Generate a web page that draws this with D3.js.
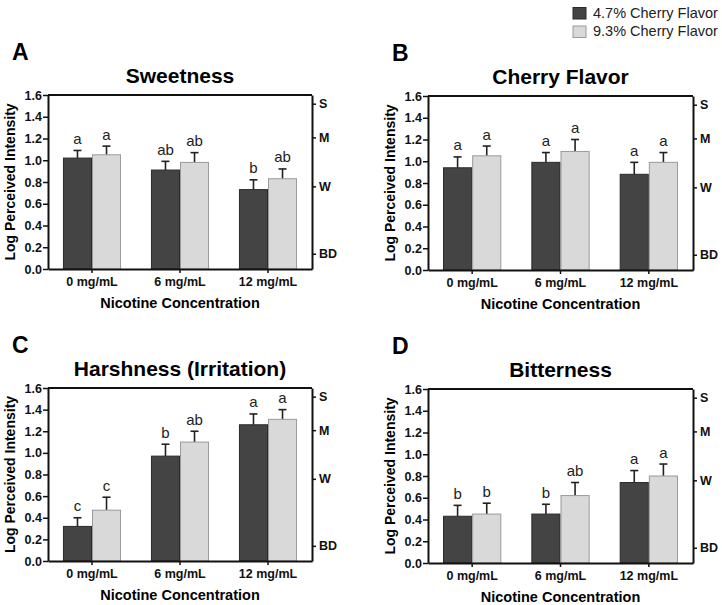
<!DOCTYPE html>
<html>
<head>
<meta charset="utf-8">
<script src="https://cdn.jsdelivr.net/npm/d3@7"></script>
<style>
  body { margin: 0; background: #fff; }
  text { font-family: "Liberation Sans", Arial, sans-serif; }
</style>
</head>
<body>
<div id="my_dataviz"></div>
<script>
// data
var categories = ["0 mg/mL", "6 mg/mL", "12 mg/mL"];
var seriesNames = ["4.7% Cherry Flavor", "9.3% Cherry Flavor"];
var yTicks = [0, 0.2, 0.4, 0.6, 0.8, 1.0, 1.2, 1.4, 1.6];
var glmsLabels = ["BD", "W", "M", "S"];
var glmsValues = [0.14, 0.76, 1.21, 1.52];

var sweet47 = [1.02, 0.91, 0.73], sweet47Err = [0.07, 0.08, 0.09], sweet47Sig = ["a", "ab", "b"];
var sweet93 = [1.05, 0.98, 0.83], sweet93Err = [0.08, 0.09, 0.09], sweet93Sig = ["a", "ab", "ab"];
var cherry47 = [0.94, 0.99, 0.88], cherry47Err = [0.10, 0.09, 0.11], cherry47Sig = ["a", "a", "a"];
var cherry93 = [1.05, 1.09, 0.99], cherry93Err = [0.09, 0.11, 0.09], cherry93Sig = ["a", "a", "a"];
var harsh47 = [0.32, 0.97, 1.26], harsh47Err = [0.08, 0.11, 0.10], harsh47Sig = ["c", "b", "a"];
var harsh93 = [0.47, 1.10, 1.31], harsh93Err = [0.12, 0.10, 0.09], harsh93Sig = ["c", "ab", "a"];
var bitter47 = [0.43, 0.45, 0.74], bitter47Err = [0.10, 0.09, 0.11], bitter47Sig = ["b", "b", "a"];
var bitter93 = [0.45, 0.62, 0.80], bitter93Err = [0.10, 0.12, 0.11], bitter93Sig = ["b", "ab", "a"];

var fills = ["#444444", "#d9d9d9"];
var strokes = ["#2a2a2a", "#9a9a9a"];

var svg = d3.select("#my_dataviz")
  .append("svg")
    .attr("width", 722)
    .attr("height", 605);

// legend top right
var legend = svg.append("g");
seriesNames.forEach(function(name, i) {
  legend.append("rect")
    .attr("x", 573).attr("y", 7.5 + i * 18.5)
    .attr("width", 13).attr("height", 11.5)
    .attr("fill", fills[i])
    .attr("stroke", strokes[i]).attr("stroke-width", 1);
  legend.append("text")
    .attr("x", 593).attr("y", 17.5 + i * 18.5)
    .style("font-size", "14.5px")
    .attr("fill", "#222")
    .text(name);
});

var panels = [
  {letter: "A", title: "Sweetness", x: 48, y: 95, w: 264, h: 174,
   v: [sweet47, sweet93], e: [sweet47Err, sweet93Err], s: [sweet47Sig, sweet93Sig]},
  {letter: "B", title: "Cherry Flavor", x: 428, y: 96, w: 265, h: 174,
   v: [cherry47, cherry93], e: [cherry47Err, cherry93Err], s: [cherry47Sig, cherry93Sig]},
  {letter: "C", title: "Harshness (Irritation)", x: 48, y: 388, w: 264, h: 173,
   v: [harsh47, harsh93], e: [harsh47Err, harsh93Err], s: [harsh47Sig, harsh93Sig]},
  {letter: "D", title: "Bitterness", x: 428, y: 389, w: 265, h: 174,
   v: [bitter47, bitter93], e: [bitter47Err, bitter93Err], s: [bitter47Sig, bitter93Sig]}
];

panels.forEach(function(p) {
  var g = svg.append("g")
    .attr("transform", "translate(" + p.x + "," + p.y + ")");

  var x0 = d3.scaleBand()
    .domain(categories)
    .range([0, p.w])
    .paddingInner(0.34)
    .paddingOuter(0.17);
  var x1 = d3.scaleBand()
    .domain([0, 1])
    .range([0, x0.bandwidth()]);
  var y = d3.scaleLinear()
    .domain([0, 1.6])
    .range([p.h, 0]);

  // panel letter + title
  g.append("text")
    .attr("x", -36).attr("y", -35.5)
    .style("font-size", "23px").style("font-weight", "bold")
    .text(p.letter);
  g.append("text")
    .attr("x", p.w / 2).attr("y", -12.5)
    .attr("text-anchor", "middle")
    .style("font-size", "21px").style("font-weight", "bold")
    .text(p.title);

  // bars
  var rows = [];
  categories.forEach(function(c, ci) {
    [0, 1].forEach(function(si) {
      rows.push({cat: c, s: si, val: p.v[si][ci], err: p.e[si][ci], sig: p.s[si][ci]});
    });
  });

  var bars = g.append("g").selectAll("g")
    .data(rows)
    .enter()
    .append("g")
      .attr("transform", function(d) { return "translate(" + (x0(d.cat) + x1(d.s)) + ",0)"; });

  bars.append("line")
    .attr("x1", x1.bandwidth() / 2).attr("x2", x1.bandwidth() / 2)
    .attr("y1", function(d) { return y(d.val); })
    .attr("y2", function(d) { return y(d.val + d.err); })
    .attr("stroke", "#222").attr("stroke-width", 1.6);
  bars.append("line")
    .attr("x1", x1.bandwidth() / 2 - 4).attr("x2", x1.bandwidth() / 2 + 4)
    .attr("y1", function(d) { return y(d.val + d.err); })
    .attr("y2", function(d) { return y(d.val + d.err); })
    .attr("stroke", "#222").attr("stroke-width", 1.6);
  bars.append("rect")
    .attr("x", 0.5)
    .attr("y", function(d) { return y(d.val); })
    .attr("width", x1.bandwidth() - 1)
    .attr("height", function(d) { return p.h - y(d.val); })
    .attr("fill", function(d) { return fills[d.s]; })
    .attr("stroke", function(d) { return strokes[d.s]; })
    .attr("stroke-width", 1);
  bars.append("text")
    .attr("x", x1.bandwidth() / 2)
    .attr("y", function(d) { return y(d.val + d.err) - 6.5; })
    .attr("text-anchor", "middle")
    .style("font-size", "15px")
    .attr("fill", "#222")
    .text(function(d) { return d.sig; });

  // frame top
  g.append("line")
    .attr("x1", 0).attr("x2", p.w)
    .attr("y1", 0).attr("y2", 0)
    .attr("stroke", "#111").attr("stroke-width", 2);

  // left axis
  var yAxis = g.append("g")
    .call(d3.axisLeft(y).tickValues(yTicks).tickFormat(d3.format(".1f"))
      .tickSize(5).tickSizeOuter(0).tickPadding(1));
  // right axis, gLMS descriptors
  var rAxis = g.append("g")
    .attr("transform", "translate(" + p.w + ",0)")
    .call(d3.axisRight(y).tickValues(glmsValues)
      .tickFormat(function(d, i) { return glmsLabels[i]; })
      .tickSize(4).tickSizeOuter(0).tickPadding(3));
  // bottom axis
  var xAxis = g.append("g")
    .attr("transform", "translate(0," + p.h + ")")
    .call(d3.axisBottom(x0).tickSize(4).tickSizeOuter(0).tickPadding(4));

  [yAxis, rAxis, xAxis].forEach(function(a) {
    a.select(".domain").attr("stroke", "#111").attr("stroke-width", 2);
    a.selectAll(".tick line").attr("stroke", "#111").attr("stroke-width", 1.5);
    a.selectAll(".tick text")
      .style("font-size", "12.5px").style("font-weight", "bold")
      .style("font-family", "'Liberation Sans', Arial, sans-serif")
      .attr("fill", "#111");
  });

  // axis titles
  g.append("text")
    .attr("transform", "translate(-33," + (p.h / 2) + ") rotate(-90)")
    .attr("text-anchor", "middle")
    .style("font-size", "14px").style("font-weight", "bold")
    .text("Log Perceived Intensity");
  g.append("text")
    .attr("x", p.w / 2).attr("y", p.h + 39)
    .attr("text-anchor", "middle")
    .style("font-size", "14.5px").style("font-weight", "bold")
    .text("Nicotine Concentration");
});
</script>
</body>
</html>
